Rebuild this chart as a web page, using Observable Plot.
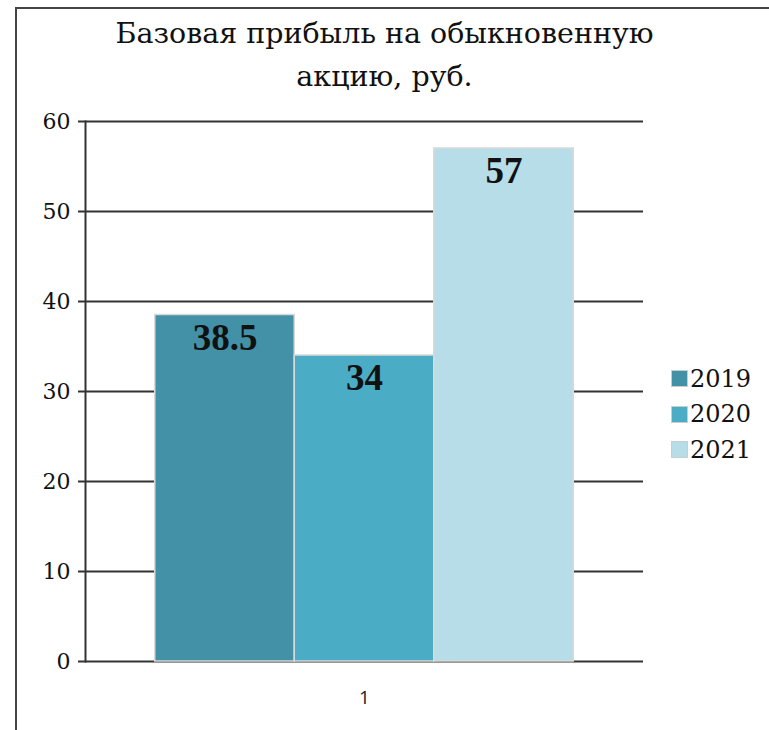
<!DOCTYPE html>
<html>
<head>
<meta charset="utf-8">
<script src="https://cdn.jsdelivr.net/npm/d3@7"></script>
<script src="https://cdn.jsdelivr.net/npm/@observablehq/plot@0.6"></script>
<style>
  html, body { margin: 0; padding: 0; background: #fff; }
  #wrap { position: relative; width: 769px; height: 730px; overflow: hidden; background: #fff; }
  #border { position: absolute; left: 15px; top: 7px; width: 800px; height: 800px; border: 2px solid #444; box-sizing: border-box; }
  #title { position: absolute; top: 12px; left: 0; width: 769px; text-align: center;
           font-family: "DejaVu Serif", serif; font-size: 28.5px; line-height: 43px; color: #111; }
  #chart { position: absolute; top: 100px; left: 0; }
  #legend { position: absolute; left: 671px; top: 361px; font-family: "DejaVu Serif", serif; font-size: 24px; color: #111; }
  .row { display: flex; align-items: center; height: 35.5px; }
  .sw { width: 17px; height: 17px; box-sizing: border-box; border: 1px solid #ccc; margin-right: 2px; }
</style>
</head>
<body>
<div id="wrap">
  <div id="border"></div>
  <div id="title">Базовая прибыль на обыкновенную<br>акцию, руб.</div>
  <div id="chart"></div>
  <div id="legend"></div>
</div>
<script>
const years = ["2019", "2020", "2021"];
const values = [38.5, 34, 57];
const colors = ["#4391a7", "#4bacc6", "#b7dde8"];
const categories = ["1"];
const yTicks = [0, 10, 20, 30, 40, 50, 60];

const data = years.map((y, i) => ({year: y, value: values[i], i}));

const chart = Plot.plot({
  width: 769,
  height: 630,
  marginLeft: 85,
  marginRight: 126,
  marginTop: 21,
  marginBottom: 69,
  x: {domain: [-0.5, years.length + 0.5], axis: null},
  y: {domain: [0, 60], axis: null},
  color: {domain: years, range: colors},
  style: {fontFamily: "'DejaVu Serif', serif", background: "transparent", color: "#111", overflow: "visible"},
  marks: [
    Plot.ruleY(yTicks, {stroke: "#333", strokeWidth: 2, insetLeft: -7}),
    Plot.rectY(data, {x1: "i", x2: d => d.i + 1, y: "value", fill: "year", stroke: "#d9d9d9", strokeWidth: 1.5}),
    Plot.frame({anchor: "left", stroke: "#333", strokeWidth: 2}),
    Plot.axisY({ticks: yTicks, tickSize: 0, tickPadding: 15, fontSize: 22, label: null}),
    Plot.text(data, {x: d => d.i + 0.5, y: "value", text: d => String(d.value), dy: 23,
      fontFamily: "'Liberation Serif', serif", fontSize: 37, fontWeight: "bold", fill: "#111"}),
    Plot.text(categories, {x: () => years.length / 2, y: () => 0, text: d => d, dy: 36,
      fontFamily: "Open Sans, sans-serif", fontSize: 19, fill: "#222"})
  ]
});
document.getElementById("chart").appendChild(chart);

const legend = document.getElementById("legend");
years.forEach((y, i) => {
  const row = document.createElement("div");
  row.className = "row";
  const sw = document.createElement("div");
  sw.className = "sw";
  sw.style.background = colors[i];
  const t = document.createElement("span");
  t.textContent = y;
  row.appendChild(sw);
  row.appendChild(t);
  legend.appendChild(row);
});
</script>
</body>
</html>
